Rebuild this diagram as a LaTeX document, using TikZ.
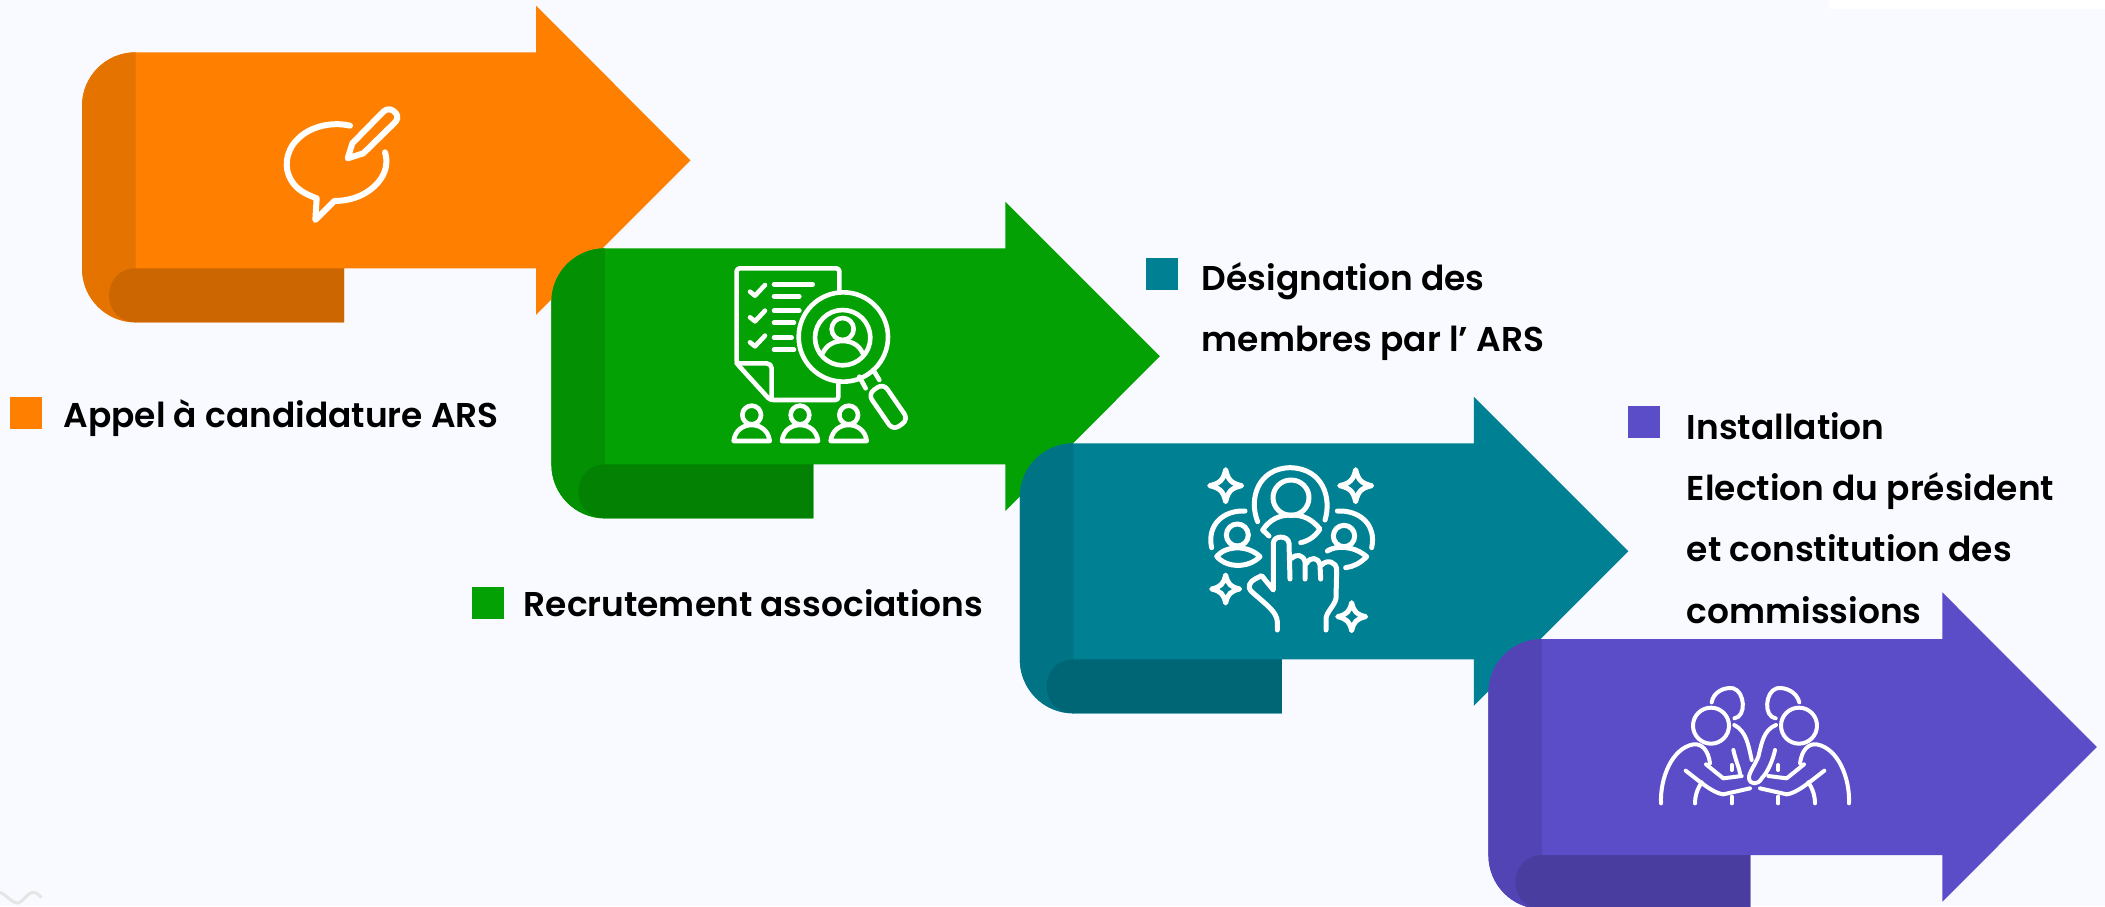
\documentclass[tikz,border=0pt]{standalone}
\usepackage{fontspec}
\newfontfamily\lab{Poppins}[BoldFont={Poppins SemiBold}]
\definecolor{bgc}{HTML}{F8FAFF}
\definecolor{ora}{HTML}{FF8000}\definecolor{oraB}{HTML}{E57300}\definecolor{oraF}{HTML}{CC6600}
\definecolor{gre}{HTML}{03A103}\definecolor{greB}{HTML}{039103}\definecolor{greF}{HTML}{028102}
\definecolor{tea}{HTML}{008093}\definecolor{teaB}{HTML}{007384}\definecolor{teaF}{HTML}{006675}
\definecolor{pur}{HTML}{5B4CC8}\definecolor{purB}{HTML}{5244B4}\definecolor{purF}{HTML}{493DA0}
\tikzset{
  lbl/.style={anchor=north west,inner sep=0pt,align=left,text=black,font={\lab\bfseries\fontsize{34.4}{61.3}\selectfont}},
  swatch/.style={draw=none,inner sep=0pt,minimum width=32pt,minimum height=32pt,anchor=north west},
  icon/.style={draw=white,line cap=round,line join=round,x=0.33333pt,y=-0.33333pt},
}
\newcommand\foldarrow[5]{%
  \begin{scope}[shift={(#1pt,-#2pt)}]
    \fill[#3] (0,53.5) .. controls (0,24) and (24,0) .. (53.5,0) -- (454,0) -- (454,-46.6) -- (608.5,108) -- (454,262.6) -- (454,216) -- (262,216) -- (262,270) -- (53.5,270) .. controls (24,270) and (0,246) .. (0,216) -- cycle;
    \fill[#4] (53.5,0) .. controls (24,0) and (0,24) .. (0,53.5) -- (0,216) .. controls (0,246) and (24,270) .. (53.5,270) -- cycle;
    \fill[#5] (262,216) -- (53.5,216) .. controls (38,216) and (27,228) .. (27,243) .. controls (27,258) and (38,270) .. (53.5,270) -- (262,270) -- cycle;
  \end{scope}}
\begin{document}
\begin{tikzpicture}[x=1pt,y=-1pt]
\clip (0,0) rectangle (2105,906);
\fill[bgc] (0,0) rectangle (2105,906);
\fill[white] (1829,0) rectangle (2105,8.7);
\draw[color=black!10,line width=3pt,line cap=round] (0,892.5) .. controls (7,895) and (12,903) .. (17,903) .. controls (23,903) and (27,892.5) .. (33,892.5) .. controls (37,892.5) and (39,895) .. (41,897);

\foldarrow{82}{52.3}{ora}{oraB}{oraF}
% icon 1
\begin{scope}[shift={(270pt,-95pt)},icon,line width=6pt]
  \draw (240,92) .. controls (190,80) and (110,90) .. (68,150) .. controls (42,190) and (45,235) .. (72,268) .. controls (90,290) and (115,300) .. (140,310) -- (136,375) -- (193,318) .. controls (250,318) and (300,295) .. (330,255) .. controls (352,225) and (352,195) .. (345,172);
  \draw (233,190) -- (247,145) -- (340,50) .. controls (352,38) and (368,42) .. (378,55) .. controls (385,65) and (383,75) .. (372,85) -- (280,175) -- cycle;
\end{scope}

\foldarrow{551.4}{248.3}{gre}{greB}{greF}
% icon 2
\begin{scope}[shift={(720pt,-255pt)},icon,line width=4.6pt]
  \draw[rounded corners=3pt] (358,105) -- (358,40) -- (50,40) -- (50,325) -- (150,435) -- (355,435) -- (355,385);
  \draw[rounded corners=5pt] (50,325) -- (155,325) -- (155,430);
  \foreach \y in {0,77,152} \draw (90,{110+\y}) -- (105,{122+\y}) -- (135,{90+\y});
  \draw (162,88) -- (278,88) (162,124) -- (238,124) (162,167) -- (238,167) (162,203) -- (222,203) (162,248) -- (215,248) (162,284) -- (222,284);
  \draw (370,246) circle[radius=134];
  \draw (368,248) circle[radius=83];
  \draw (368,222) circle[radius=33];
  \draw (308,295) .. controls (320,268) and (345,258) .. (368,258) .. controls (392,258) and (417,268) .. (428,295);
  \draw (460,345) -- (478,375) (418,365) -- (437,400);
  \draw[rounded corners=7pt] (490,385) -- (565,494) -- (519,526) -- (444,417) -- cycle;
  \foreach \xx in {95,240,386} {
    \draw (\xx,480) circle[radius=28];
    \draw ({\xx-54},558) .. controls ({\xx-50},525) and ({\xx-25},510) .. (\xx,510) .. controls ({\xx+25},510) and ({\xx+50},525) .. ({\xx+54},558) -- cycle;
  }
\end{scope}

\foldarrow{1019.8}{443.3}{tea}{teaB}{teaF}
% icon 3
\begin{scope}[shift={(1190pt,-455pt)},icon,line width=5pt]
  \foreach \cx/\cy/\R in {107/92/48,497/92/48,107/402/42,485/485/42} {
    \draw ({\cx+\R},\cy) .. controls ({\cx+.35*\R},{\cy+.15*\R}) and ({\cx+.15*\R},{\cy+.35*\R}) .. (\cx,{\cy+\R})
      .. controls ({\cx-.15*\R},{\cy+.35*\R}) and ({\cx-.35*\R},{\cy+.15*\R}) .. ({\cx-\R},\cy)
      .. controls ({\cx-.35*\R},{\cy-.15*\R}) and ({\cx-.15*\R},{\cy-.35*\R}) .. (\cx,{\cy-\R})
      .. controls ({\cx+.15*\R},{\cy-.35*\R}) and ({\cx+.35*\R},{\cy-.15*\R}) .. ({\cx+\R},\cy) -- cycle;
  }
  \draw (203,200) .. controls (175,130) and (205,40) .. (300,38) .. controls (400,40) and (425,130) .. (405,195);
  \draw (303,128) ellipse[x radius=54,y radius=53];
  \draw (237,243) -- (218,225) .. controls (240,192) and (270,180) .. (303,180) .. controls (340,180) and (365,192) .. (390,222) .. controls (375,245) and (355,258) .. (332,263);
  \draw (165,168) .. controls (100,165) and (50,210) .. (65,278);
  \draw (142,240) circle[radius=33];
  \draw (80,304) .. controls (110,270) and (175,270) .. (210,305) .. controls (175,340) and (110,340) .. (80,304) -- cycle;
  \draw (442,168) .. controls (510,165) and (560,210) .. (545,278);
  \draw (462,243) circle[radius=32];
  \draw (412,288) .. controls (435,272) and (490,270) .. (530,305) .. controls (510,325) and (490,335) .. (467,338);
  \draw (262,525) -- (262,500) .. controls (260,470) and (230,450) .. (185,410) .. controls (170,395) and (180,380) .. (195,372) -- (215,362) -- (250,405) -- (250,265) .. controls (250,240) and (295,240) .. (297,265) -- (300,372);
  \draw (305,310) .. controls (320,295) and (340,300) .. (345,320) -- (345,372);
  \draw (350,325) .. controls (360,305) and (385,305) .. (390,330) -- (392,372);
  \draw (395,330) .. controls (410,312) and (440,320) .. (440,345) -- (438,430) .. controls (435,450) and (410,470) .. (408,490) -- (408,525);
\end{scope}

\foldarrow{1488.4}{639}{pur}{purB}{purF}
% icon 4
\begin{scope}[shift={(1650pt,-675pt)},icon,line width=4pt]
  \draw (185,82) .. controls (190,50) and (225,35) .. (250,40) .. controls (285,50) and (290,125) .. (253,130);
  \draw (448,82) .. controls (440,50) and (405,35) .. (380,40) .. controls (345,50) and (340,125) .. (377,130);
  \draw (183,152) circle[radius=54];
  \draw (447,152) circle[radius=54];
  \draw (33,385) .. controls (30,310) and (65,220) .. (130,208) .. controls (155,205) and (175,225) .. (180,265);
  \draw (168,268) -- (220,310) -- (275,303);
  \draw (107,287) .. controls (150,320) and (190,355) .. (220,358) -- (300,340);
  \draw (155,322) .. controls (140,345) and (135,365) .. (135,385);
  \draw (245,270) -- (245,285) (245,365) -- (245,385);
  \draw (253,150) .. controls (290,170) and (295,210) .. (305,255);
  \draw (250,225) .. controls (258,260) and (268,280) .. (270,295);
  \draw (597,385) .. controls (600,310) and (565,220) .. (500,208) .. controls (475,205) and (455,225) .. (450,265);
  \draw (462,268) -- (410,310) -- (355,303);
  \draw (523,287) .. controls (480,320) and (440,355) .. (410,358) -- (330,340);
  \draw (475,322) .. controls (490,345) and (495,365) .. (495,385);
  \draw (385,270) -- (385,285) (385,365) -- (385,385);
  \draw (378,150) .. controls (340,165) and (335,205) .. (325,245) .. controls (315,270) and (295,295) .. (297,310) .. controls (300,330) and (325,330) .. (335,310) .. controls (355,290) and (370,250) .. (375,225);
\end{scope}

% legend
\node[swatch,fill=ora] (s1) at (10,397) {};
\node[lbl] (t1) at (63.4,399) {Appel à candidature ARS};
\node[swatch,fill=gre] (s2) at (472,587) {};
\node[lbl] (t2) at (523.6,589) {Recrutement associations};
\node[swatch,fill=tea] (s3) at (1146,258) {};
\node[lbl] (t3) at (1201.6,262) {Désignation des\\membres par l’ ARS};
\node[swatch,fill=pur] (s4) at (1628,406) {};
\node[lbl] (t4) at (1686.7,412) {Installation\\Election du président\\et constitution des\\commissions};
\end{tikzpicture}
\end{document}
